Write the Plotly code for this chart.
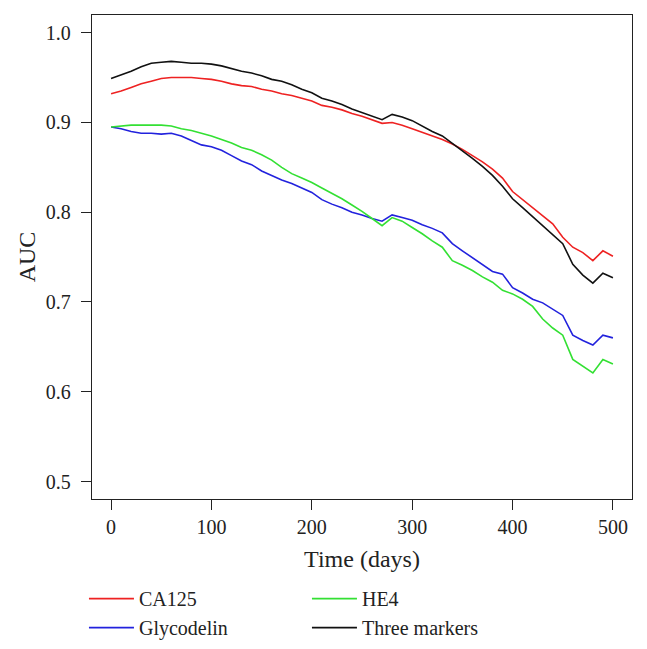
import plotly.graph_objects as go

days = list(range(0, 501, 10))

ca125 = [0.932, 0.935, 0.939, 0.943, 0.946, 0.949, 0.950, 0.950, 0.950, 0.949,
         0.948, 0.946, 0.943, 0.941, 0.940, 0.937, 0.935, 0.932, 0.930, 0.927,
         0.924, 0.919, 0.917, 0.914, 0.910, 0.907, 0.903, 0.899, 0.900, 0.897,
         0.893, 0.889, 0.885, 0.881, 0.876, 0.870, 0.863, 0.856, 0.848, 0.838,
         0.823, 0.814, 0.805, 0.796, 0.787, 0.772, 0.761, 0.755, 0.746, 0.757,
         0.751]

glycodelin = [0.895, 0.893, 0.890, 0.888, 0.888, 0.887, 0.888, 0.885, 0.880, 0.875,
              0.873, 0.869, 0.863, 0.857, 0.853, 0.846, 0.841, 0.836, 0.832, 0.827,
              0.822, 0.814, 0.809, 0.805, 0.800, 0.797, 0.793, 0.790, 0.797, 0.794,
              0.791, 0.786, 0.782, 0.777, 0.765, 0.757, 0.749, 0.741, 0.734, 0.731,
              0.716, 0.710, 0.703, 0.699, 0.692, 0.685, 0.663, 0.657, 0.652, 0.663,
              0.660]

he4 = [0.895, 0.896, 0.897, 0.897, 0.897, 0.897, 0.896, 0.893, 0.891, 0.888,
       0.885, 0.881, 0.877, 0.872, 0.869, 0.864, 0.858, 0.850, 0.843, 0.838,
       0.833, 0.827, 0.821, 0.815, 0.808, 0.801, 0.793, 0.785, 0.794, 0.790,
       0.783, 0.776, 0.768, 0.761, 0.746, 0.741, 0.735, 0.728, 0.722, 0.713,
       0.709, 0.703, 0.695, 0.681, 0.671, 0.663, 0.636, 0.628, 0.621, 0.636,
       0.631]

three_markers = [0.949, 0.953, 0.957, 0.962, 0.966, 0.967, 0.968, 0.967, 0.966, 0.966,
                 0.965, 0.963, 0.960, 0.957, 0.955, 0.952, 0.948, 0.946, 0.942, 0.937,
                 0.933, 0.927, 0.924, 0.920, 0.915, 0.911, 0.907, 0.903, 0.909, 0.906,
                 0.902, 0.896, 0.890, 0.885, 0.877, 0.869, 0.860, 0.851, 0.841, 0.829,
                 0.815, 0.805, 0.795, 0.784, 0.775, 0.765, 0.742, 0.730, 0.721, 0.732,
                 0.727]

x_ticks = [0, 100, 200, 300, 400, 500]
y_ticks = [0.5, 0.6, 0.7, 0.8, 0.9, 1.0]

series = [
    ("CA125", ca125, "#ee2222", 1),
    ("Glycodelin", glycodelin, "#2222dd", 3),
    ("HE4", he4, "#33e033", 2),
    ("Three markers", three_markers, "#111111", 4),
]

FONT = "Liberation Serif"

fig = go.Figure()
for name, vals, color, rank in series:
    fig.add_trace(go.Scatter(
        x=days, y=vals, mode="lines", name=name,
        line=dict(color=color, width=1.6),
        legendrank=rank,
    ))

fig.update_layout(
    width=647, height=649,
    margin=dict(l=92, r=15, t=15, b=150, autoexpand=False),
    paper_bgcolor="white", plot_bgcolor="white",
    font=dict(family=FONT, size=20, color="#222222"),
    showlegend=True,
    legend=dict(
        orientation="h", x=-0.0149, xanchor="left", y=-0.1655, yanchor="top",
        entrywidth=163, entrywidthmode="pixels", itemwidth=45,
        font=dict(family=FONT, size=20, color="#222222"),
        bgcolor="rgba(0,0,0,0)", tracegroupgap=0,
    ),
)

fig.update_xaxes(
    range=[-19, 519], tickvals=x_ticks, ticktext=[str(v) for v in x_ticks],
    showline=True, linecolor="#222222", linewidth=1.3, mirror=True,
    ticks="outside", ticklen=10, tickwidth=1.3, tickcolor="#222222",
    ticklabelstandoff=0, automargin=False,
    showgrid=False, zeroline=False,
    title=dict(text="Time (days)", standoff=13),
)
fig.update_yaxes(
    range=[0.4805, 1.0197], tickvals=y_ticks, ticktext=[f"{v:.1f}" for v in y_ticks],
    showline=True, linecolor="#222222", linewidth=1.3, mirror=True,
    ticks="outside", ticklen=10, tickwidth=1.3, tickcolor="#222222",
    ticklabelstandoff=6, automargin=False,
    showgrid=False, zeroline=False,
    title=dict(text="AUC", standoff=3),
)

fig.write_html(
    "out.html",
    config={"displayModeBar": False},
    post_script="document.body.style.margin='0';document.body.style.overflow='hidden';",
)
